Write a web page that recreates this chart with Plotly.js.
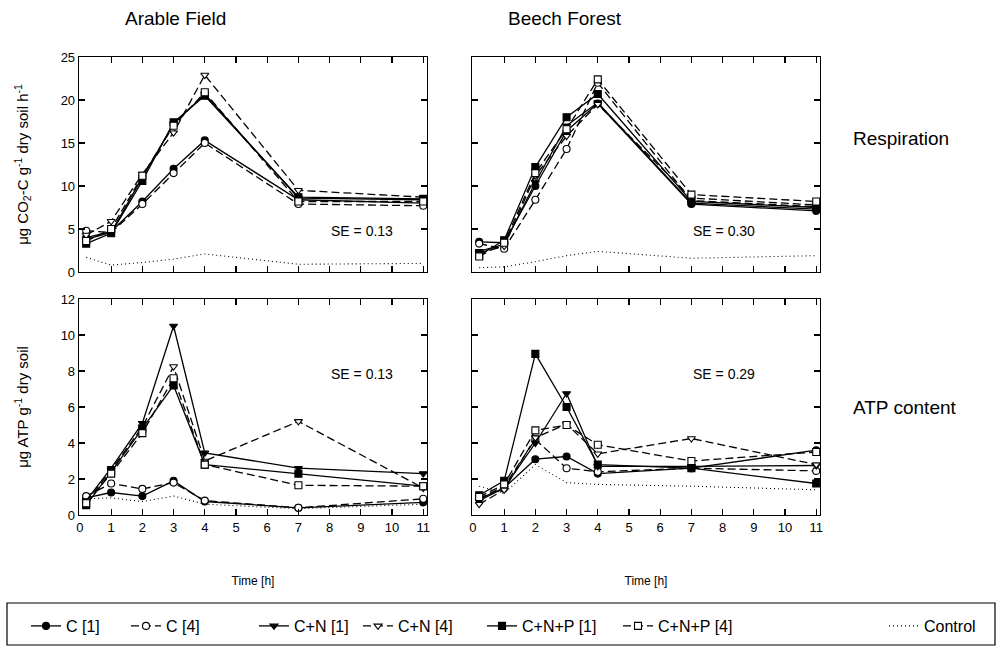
<!DOCTYPE html>
<html>
<head>
<meta charset="utf-8">
<script src="https://cdn.plot.ly/plotly-3.0.1.min.js"></script>
<style>html,body{margin:0;padding:0;background:#fff;}#chart{width:1001px;height:648px;}</style>
</head>
<body>
<div id="chart"></div>
<script>
// ---- data ----
const time = [0.2, 1, 2, 3, 4, 7, 11];
const xTicks = [0,1,2,3,4,5,6,7,8,9,10,11];

const seriesNames = ["C [1]", "C [4]", "C+N [1]", "C+N [4]", "C+N+P [1]", "C+N+P [4]", "Control"];

// Arable field, respiration
const arResp_C1   = [4.0, 4.7, 8.2, 12.0, 15.3, 8.4, 8.0];
const arResp_C4   = [4.8, 4.6, 7.9, 11.5, 15.0, 7.9, 7.7];
const arResp_CN1  = [3.8, 4.6, 11.0, 17.2, 20.7, 8.6, 8.4];
const arResp_CN4  = [4.3, 5.9, 11.4, 16.2, 22.9, 9.5, 8.7];
const arResp_CNP1 = [3.3, 4.5, 10.6, 17.4, 20.5, 8.7, 8.5];
const arResp_CNP4 = [3.6, 5.0, 11.2, 17.0, 20.9, 8.2, 8.2];
const arResp_Ctrl = [1.7, 0.8, 1.1, 1.5, 2.1, 0.9, 1.0];

// Beech forest, respiration
const bfResp_C1   = [3.5, 3.4, 10.0, 16.4, 19.6, 7.9, 7.1];
const bfResp_C4   = [3.3, 2.7, 8.4, 14.3, 22.0, 8.3, 7.6];
const bfResp_CN1  = [2.4, 3.2, 10.4, 17.0, 19.7, 8.0, 7.3];
const bfResp_CN4  = [2.2, 3.0, 11.2, 15.8, 19.5, 8.6, 7.8];
const bfResp_CNP1 = [1.9, 3.7, 12.2, 18.0, 20.7, 8.2, 7.5];
const bfResp_CNP4 = [1.8, 3.4, 11.5, 16.6, 22.4, 9.0, 8.2];
const bfResp_Ctrl = [0.5, 0.6, 1.2, 1.9, 2.4, 1.6, 1.9];

// Arable field, ATP content
const arATP_C1   = [0.95, 1.25, 1.05, 1.9, 0.75, 0.4, 0.7];
const arATP_C4   = [1.05, 1.75, 1.45, 1.8, 0.8, 0.4, 0.9];
const arATP_CN1  = [0.8, 2.6, 5.1, 10.5, 3.45, 2.6, 2.3];
const arATP_CN4  = [0.7, 2.5, 4.9, 8.25, 3.0, 5.2, 1.5];
const arATP_CNP1 = [0.55, 2.4, 4.8, 7.2, 2.8, 2.3, 1.6];
const arATP_CNP4 = [0.65, 2.3, 4.55, 7.6, 2.8, 1.65, 1.6];
const arATP_Ctrl = [0.9, 0.95, 0.75, 1.05, 0.6, 0.35, 0.6];

// Beech forest, ATP content
const bfATP_C1   = [0.9, 1.5, 3.1, 3.25, 2.3, 2.6, 3.6];
const bfATP_C4   = [0.9, 1.6, 4.2, 2.6, 2.4, 2.6, 2.45];
const bfATP_CN1  = [0.8, 1.5, 4.0, 6.75, 2.7, 2.7, 2.75];
const bfATP_CN4  = [0.6, 1.4, 4.3, 5.05, 3.4, 4.25, 2.8];
const bfATP_CNP1 = [1.1, 1.9, 8.95, 6.0, 2.8, 2.6, 1.75];
const bfATP_CNP4 = [1.0, 1.7, 4.7, 5.0, 3.9, 3.0, 3.5];
const bfATP_Ctrl = [1.6, 1.2, 2.8, 1.8, 1.7, 1.6, 1.4];

const seText = ["SE = 0.13", "SE = 0.30", "SE = 0.13", "SE = 0.29"];

// ---- styles ----
const styles = [
  {symbol: "circle", fill: "black", dash: "solid"},
  {symbol: "circle", fill: "white", dash: "8px,4px"},
  {symbol: "triangle-down", fill: "black", dash: "solid"},
  {symbol: "triangle-down", fill: "white", dash: "8px,4px"},
  {symbol: "square", fill: "black", dash: "solid"},
  {symbol: "square", fill: "white", dash: "8px,4px"},
  {symbol: null, fill: null, dash: "1px,3px"}
];

const panels = [
  {xa: "x",  ya: "y",  data: [arResp_C1, arResp_C4, arResp_CN1, arResp_CN4, arResp_CNP1, arResp_CNP4, arResp_Ctrl]},
  {xa: "x2", ya: "y2", data: [bfResp_C1, bfResp_C4, bfResp_CN1, bfResp_CN4, bfResp_CNP1, bfResp_CNP4, bfResp_Ctrl]},
  {xa: "x3", ya: "y3", data: [arATP_C1, arATP_C4, arATP_CN1, arATP_CN4, arATP_CNP1, arATP_CNP4, arATP_Ctrl]},
  {xa: "x4", ya: "y4", data: [bfATP_C1, bfATP_C4, bfATP_CN1, bfATP_CN4, bfATP_CNP1, bfATP_CNP4, bfATP_Ctrl]}
];

const legendIds = ["legend", "legend2", "legend3", "legend4", "legend5", "legend6", "legend7"];

const traces = [];
panels.forEach((p, pi) => {
  const order = [6, 0, 1, 2, 3, 4, 5];
  order.forEach(si => {
    const st = styles[si];
    const tr = {
      x: time, y: p.data[si], xaxis: p.xa, yaxis: p.ya,
      name: seriesNames[si], legendgroup: seriesNames[si],
      legend: legendIds[si],
      showlegend: pi === 0,
      type: "scatter",
      mode: st.symbol ? "lines+markers" : "lines",
      line: {color: "black", width: st.symbol ? 1.3 : 1.1, dash: st.dash},
      hoverinfo: "skip"
    };
    if (st.symbol) {
      tr.marker = {symbol: st.symbol, size: 7, color: st.fill, line: {color: "black", width: 1.1}};
    }
    traces.push(tr);
  });
});

const W = 1001, H = 648;
const px = v => v / W, py = v => 1 - v / H;
const FAM = "Liberation Sans, Arial, sans-serif";
const tickFont = {family: FAM, size: 13, color: "black"};

function xax(domain, showLabels, anchor) {
  const a = {
    domain: domain, anchor: anchor, range: [-0.03, 11.12],
    tickvals: xTicks, ticktext: xTicks.map(String), showticklabels: showLabels,
    ticks: "inside", ticklen: 6, tickwidth: 1.2, tickcolor: "black",
    showline: true, linecolor: "black", linewidth: 1.3, mirror: "allticks",
    showgrid: false, zeroline: false, tickfont: tickFont, fixedrange: true
  };
  if (showLabels) a.title = {text: "Time [h]", font: {family: FAM, size: 12, color: "black"}, standoff: 42};
  return a;
}
function yax(domain, range, dtick, showLabels, anchor, title) {
  const a = {
    domain: domain, anchor: anchor, range: range, dtick: dtick, tick0: 0,
    showticklabels: showLabels,
    ticks: "inside", ticklen: 6, tickwidth: 1.2, tickcolor: "black",
    showline: true, linecolor: "black", linewidth: 1.3, mirror: "allticks",
    showgrid: false, zeroline: false, tickfont: tickFont, fixedrange: true
  };
  if (title) a.title = {text: title, font: {family: FAM, size: 15, color: "black"}, standoff: 28};
  return a;
}

const xL = [px(79), px(427)], xR = [px(472), px(820)];
const yT = [py(272), py(57)], yB = [py(515), py(299)];

const annFont = {family: FAM, size: 14, color: "black"};
const hdrFont = {family: FAM, size: 19, color: "black"};

// legend entry left positions (px)
const legendX = [26, 126, 254, 358, 482, 618, 884];

const layout = {
  width: W, height: H,
  margin: {l: 0, r: 0, t: 0, b: 0},
  paper_bgcolor: "white", plot_bgcolor: "white",
  showlegend: true,
  xaxis: xax(xL, false, "y"),
  yaxis: yax(yT, [0, 25], 5, true, "x", "μg CO<sub>2</sub>-C g<sup>-1</sup> dry soil h<sup>-1</sup>"),
  xaxis2: xax(xR, false, "y2"),
  yaxis2: yax(yT, [0, 25], 5, false, "x2"),
  xaxis3: xax(xL, true, "y3"),
  yaxis3: yax(yB, [0, 12], 2, true, "x3", "μg ATP g<sup>-1</sup> dry soil"),
  xaxis4: xax(xR, true, "y4"),
  yaxis4: yax(yB, [0, 12], 2, false, "x4"),
  shapes: [
    {type: "rect", xref: "paper", yref: "paper", x0: px(7), x1: px(995), y0: py(645), y1: py(603),
     line: {color: "black", width: 1.2}, fillcolor: "rgba(0,0,0,0)", layer: "below"}
  ],
  annotations: [
    {text: "Arable Field", xref: "paper", yref: "paper", x: px(175), y: py(18), showarrow: false, font: hdrFont, xanchor: "center", yanchor: "middle"},
    {text: "Beech Forest", xref: "paper", yref: "paper", x: px(565), y: py(18), showarrow: false, font: hdrFont, xanchor: "center", yanchor: "middle"},
    {text: "Respiration", xref: "paper", yref: "paper", x: px(851), y: py(138), showarrow: false, font: hdrFont, xanchor: "left", yanchor: "middle"},
    {text: "ATP content", xref: "paper", yref: "paper", x: px(851), y: py(407), showarrow: false, font: hdrFont, xanchor: "left", yanchor: "middle"},
    {text: seText[0], xref: "paper", yref: "paper", x: px(362), y: py(231), showarrow: false, font: annFont},
    {text: seText[1], xref: "paper", yref: "paper", x: px(757), y: py(231), showarrow: false, font: annFont},
    {text: seText[2], xref: "paper", yref: "paper", x: px(362), y: py(374), showarrow: false, font: annFont},
    {text: seText[3], xref: "paper", yref: "paper", x: px(757), y: py(374), showarrow: false, font: annFont}
  ]
};

legendIds.forEach((id, i) => {
  layout[id] = {
    orientation: "h", x: px(legendX[i]), xanchor: "left", y: py(626), yanchor: "middle",
    font: {family: FAM, size: 16, color: "black"},
    bgcolor: "rgba(0,0,0,0)", borderwidth: 0
  };
});

Plotly.newPlot("chart", traces, layout, {displayModeBar: false, staticPlot: true});
</script>
</body>
</html>
